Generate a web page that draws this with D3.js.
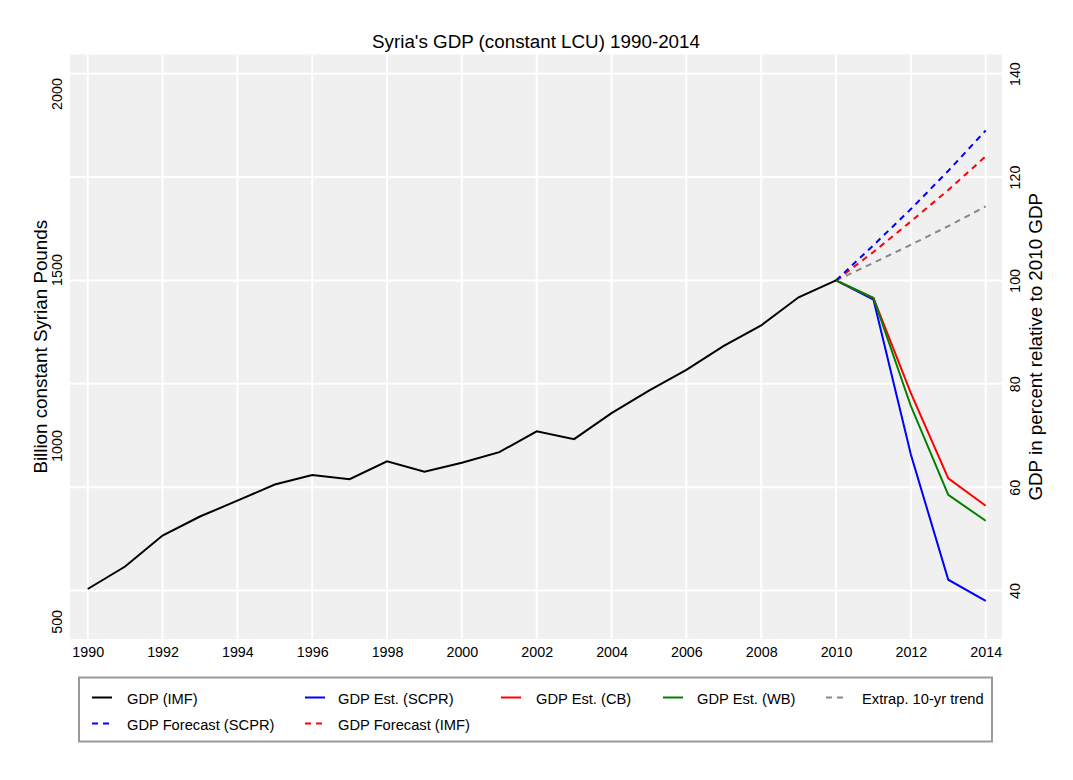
<!DOCTYPE html>
<html>
<head>
<meta charset="utf-8">
<script src="https://cdn.jsdelivr.net/npm/d3@7"></script>
<style>
body { margin: 0; background: #fff; }
text { font-family: "Liberation Sans", Arial, Helvetica, sans-serif; fill: #000; }
</style>
</head>
<body>
<script>
var width = 1073, height = 780;

// GDP (IMF), billion constant Syrian pounds
var years = [1990,1991,1992,1993,1994,1995,1996,1997,1998,1999,2000,
             2001,2002,2003,2004,2005,2006,2007,2008,2009,2010];
var gdpIMF = [592,656,744,798,843,889,916,904,955,925,951,
              981,1040,1018,1092,1156,1215,1283,1341,1421,1469];
var base2010 = 1469;

// estimates and forecasts, percent of 2010 GDP
var estYears = [2010,2011,2012,2013,2014];
var estSCPR = [100,96.3,66.3,42.1,38.0];
var estCB   = [100,96.6,78.2,61.7,56.4];
var estWB   = [100,96.6,75.7,58.5,53.5];
var fcSCPR  = [100,106.8,113.8,121.2,129.0];
var fcIMF   = [100,105.5,111.4,117.5,124.0];
var trend10 = [100,103.4,106.9,110.5,114.3];

var xTicks = d3.range(1990, 2015, 2);
var leftTicks = [500,1000,1500,2000];
var rightTicks = [40,60,80,100,120,140];

var legendItems = [
	{ label: "GDP (IMF)", color: "#000", dash: null },
	{ label: "GDP Est. (SCPR)", color: "#0000ff", dash: null },
	{ label: "GDP Est. (CB)", color: "#ff0000", dash: null },
	{ label: "GDP Est. (WB)", color: "#008000", dash: null },
	{ label: "Extrap. 10-yr trend", color: "#888", dash: "6,5" },
	{ label: "GDP Forecast (SCPR)", color: "#0000ff", dash: "6,5" },
	{ label: "GDP Forecast (IMF)", color: "#ff0000", dash: "6,5" }
];

var plot = { left: 70, right: 1002, top: 54.5, bottom: 639 };

var x = d3.scaleLinear().domain([1990, 2014]).range([87.7, 985.7]);
var yRight = d3.scaleLinear().domain([30.63, 143.7]).range([plot.bottom, plot.top]);
var yLeft = d3.scaleLinear()
	.domain(yRight.domain().map(function(p){ return p * base2010 / 100; }))
	.range([plot.bottom, plot.top]);

var svg = d3.select("body").append("svg")
	.attr("width", width).attr("height", height);

svg.append("rect")
	.attr("x", plot.left).attr("y", plot.top)
	.attr("width", plot.right - plot.left).attr("height", plot.bottom - plot.top)
	.attr("fill", "#f0f0f0");

// grid
svg.append("g").selectAll("line").data(xTicks).enter().append("line")
	.attr("x1", function(d){ return x(d); }).attr("x2", function(d){ return x(d); })
	.attr("y1", plot.top).attr("y2", plot.bottom)
	.attr("stroke", "#fff").attr("stroke-width", 2);
svg.append("g").selectAll("line").data(rightTicks).enter().append("line")
	.attr("x1", plot.left).attr("x2", plot.right)
	.attr("y1", function(d){ return yRight(d); }).attr("y2", function(d){ return yRight(d); })
	.attr("stroke", "#fff").attr("stroke-width", 2);

// axes
var xAxis = svg.append("g")
	.attr("transform", "translate(0," + plot.bottom + ")")
	.call(d3.axisBottom(x).tickValues(xTicks).tickFormat(d3.format("d")).tickSize(0).tickPadding(0));
var leftAxis = svg.append("g")
	.attr("transform", "translate(" + plot.left + ",0)")
	.call(d3.axisLeft(yLeft).tickValues(leftTicks).tickFormat(d3.format("d")).tickSize(0).tickPadding(0));
var rightAxis = svg.append("g")
	.attr("transform", "translate(" + plot.right + ",0)")
	.call(d3.axisRight(yRight).tickValues(rightTicks).tickFormat(d3.format("d")).tickSize(0).tickPadding(0));

[xAxis, leftAxis, rightAxis].forEach(function(a){
	a.select(".domain").remove();
	a.selectAll("text").style("font-size", "14.3px")
		.style("font-family", "'Liberation Sans', Arial, sans-serif");
});
xAxis.selectAll(".tick text").attr("y", 18).attr("dy", 0);
leftAxis.selectAll(".tick text")
	.attr("x", 0).attr("dy", 0)
	.attr("transform", "translate(-8,0) rotate(-90)")
	.attr("text-anchor", "middle");
rightAxis.selectAll(".tick text")
	.attr("x", 0).attr("dy", 0)
	.attr("transform", "translate(18,0) rotate(-90)")
	.attr("text-anchor", "middle");

// lines
var lineL = d3.line().x(function(d){ return x(d[0]); }).y(function(d){ return yLeft(d[1]); });
var lineR = d3.line().x(function(d){ return x(d[0]); }).y(function(d){ return yRight(d[1]); });

function drawR(vals, color, dash) {
	svg.append("path")
		.datum(d3.zip(estYears, vals))
		.attr("d", lineR)
		.attr("fill", "none")
		.attr("stroke", color)
		.attr("stroke-width", 2)
		.attr("stroke-dasharray", dash);
}

drawR(trend10, "#888", "6,5");
drawR(fcIMF, "#ff0000", "6,5");
drawR(fcSCPR, "#0000ff", "6,5");
drawR(estSCPR, "#0000ff", null);
drawR(estCB, "#ff0000", null);
drawR(estWB, "#008000", null);

svg.append("path")
	.datum(d3.zip(years, gdpIMF))
	.attr("d", lineL)
	.attr("fill", "none")
	.attr("stroke", "#000")
	.attr("stroke-width", 2);

// titles
svg.append("text")
	.attr("x", (plot.left + plot.right) / 2).attr("y", 48.3)
	.attr("text-anchor", "middle").style("font-size", "18.8px")
	.text("Syria's GDP (constant LCU) 1990-2014");
svg.append("text")
	.attr("transform", "translate(47," + (plot.top + plot.bottom) / 2 + ") rotate(-90)")
	.attr("text-anchor", "middle").style("font-size", "18.8px")
	.text("Billion constant Syrian Pounds");
svg.append("text")
	.attr("transform", "translate(1042," + (plot.top + plot.bottom) / 2 + ") rotate(-90)")
	.attr("text-anchor", "middle").style("font-size", "18.8px")
	.text("GDP in percent relative to 2010 GDP");

// legend
svg.append("rect")
	.attr("x", 79).attr("y", 677.5).attr("width", 913).attr("height", 64)
	.attr("fill", "#fff").attr("stroke", "#999").attr("stroke-width", 2);

var colX = [92, 305, 501, 663, 826];
var textX = [127, 338, 536, 697, 862];
function col(i) { return i < 5 ? i : i - 5; }
var legend = svg.append("g").selectAll("g").data(legendItems).enter().append("g")
	.attr("transform", function(d, i){
		return "translate(0," + (i < 5 ? 0 : 26) + ")";
	});
legend.append("line")
	.attr("x1", function(d, i){ return colX[col(i)]; })
	.attr("x2", function(d, i){ return colX[col(i)] + 20; })
	.attr("y1", 697.5).attr("y2", 697.5)
	.attr("stroke", function(d){ return d.color; })
	.attr("stroke-width", 2)
	.attr("stroke-dasharray", function(d){ return d.dash; });
legend.append("text")
	.attr("x", function(d, i){ return textX[col(i)]; })
	.attr("y", 704)
	.style("font-size", "14.7px")
	.text(function(d){ return d.label; });
</script>
</body>
</html>
